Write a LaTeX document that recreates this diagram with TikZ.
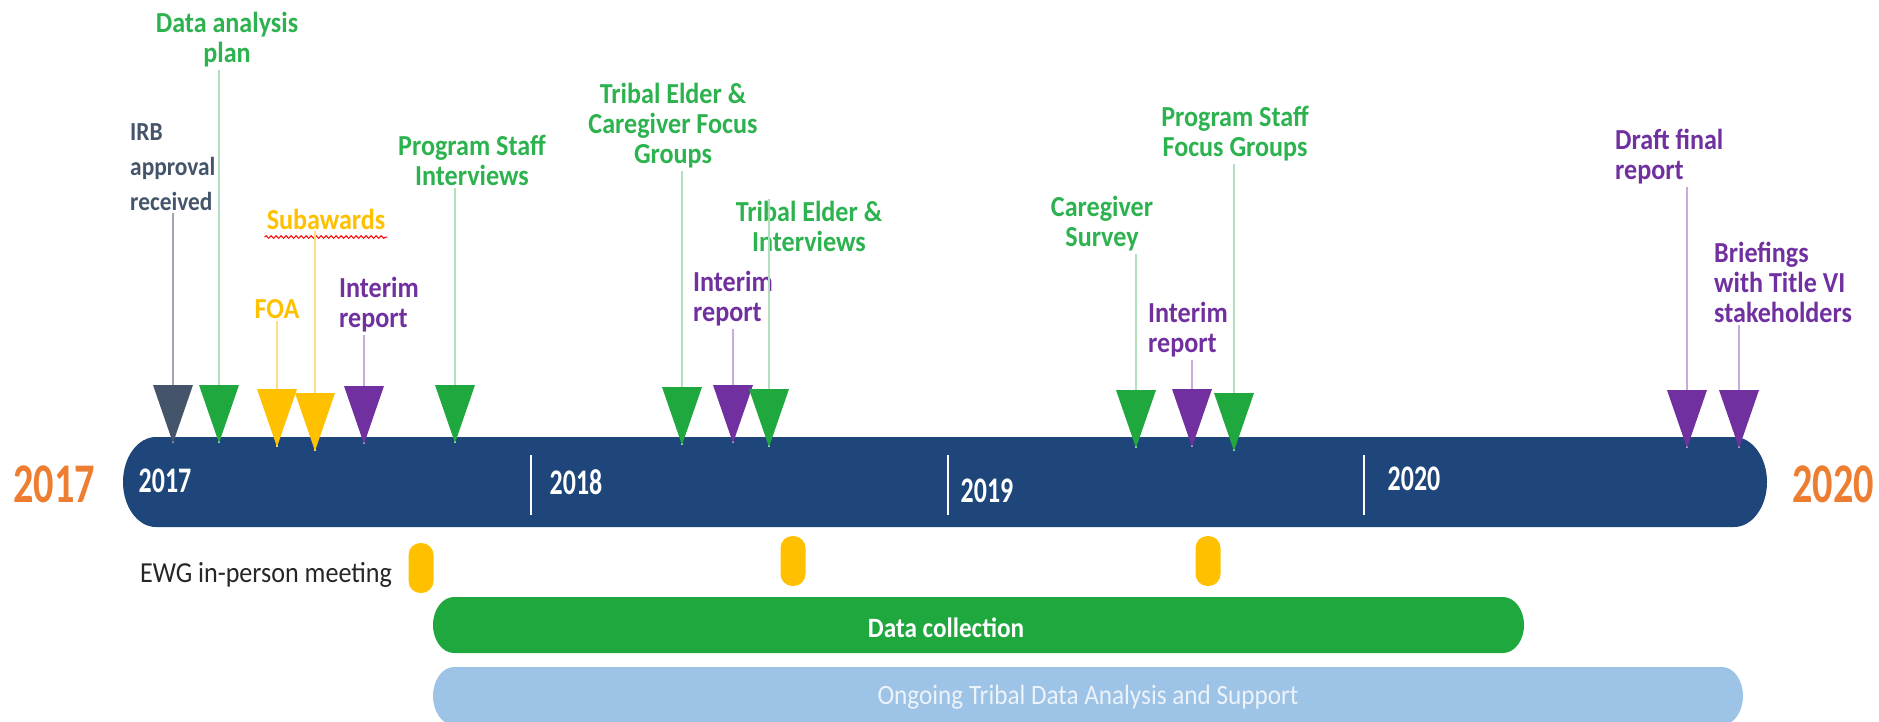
\documentclass[tikz,border=0pt]{standalone}
\usepackage{fontspec}
\setmainfont{Carlito}[FakeStretch=0.9]
\newfontfamily\yrfont{Carlito}[FakeStretch=0.72]
\usetikzlibrary{decorations.pathmorphing}

\definecolor{navy}{RGB}{30,70,122}
\definecolor{grn}{RGB}{30,168,62}
\definecolor{grntxt}{RGB}{44,178,78}
\definecolor{prp}{RGB}{112,48,160}
\definecolor{ylw}{RGB}{255,192,0}
\definecolor{orng}{RGB}{237,125,49}
\definecolor{slate}{RGB}{68,84,106}
\definecolor{ltblue}{RGB}{157,195,230}
\definecolor{lngrn}{RGB}{178,224,190}
\definecolor{lnprp}{RGB}{198,170,224}
\definecolor{lnylw}{RGB}{255,222,130}
\definecolor{lnslate}{RGB}{160,166,176}

\begin{document}
\begin{tikzpicture}[x=1pt, y=-1pt, inner sep=2pt,
    lbl/.style={font=\bfseries\fontsize{29}{30}\selectfont},
    yr/.style={font=\yrfont\bfseries\fontsize{56}{56}\selectfont, text=orng},
    baryr/.style={font=\yrfont\bfseries\fontsize{36}{36}\selectfont, text=white},
    lead/.style={line width=1.5pt},
    oval/.style={fill=ylw, minimum width=25pt, minimum height=50pt, rounded corners=12pt, inner sep=0pt}]
		\tikzstyle{every node}=[align=center]
		\useasboundingbox (0,0) rectangle (1879,721);

		% timeline bar
		\fill[navy] (156,437) -- (1734,437) arc[start angle=270, end angle=450, x radius=33, y radius=45]
			-- (156,527) arc[start angle=90, end angle=270, x radius=33, y radius=45] -- cycle;
		\draw[white, line width=1.5pt] (531,455) -- (531,515);
		\draw[white, line width=1.5pt] (948,455) -- (948,515);
		\draw[white, line width=1.5pt] (1364,455) -- (1364,515);
		\node[baryr] (b17) at (165,481) {2017};
		\node[baryr] (b18) at (576,482) {2018};
		\node[baryr] (b19) at (987,491) {2019};
		\node[baryr] (b20) at (1414,479) {2020};
		\node[yr] (y17) at (54,484) {2017};
		\node[yr] (y20) at (1833,484) {2020};

		% labels
		\node[lbl, text=slate, anchor=west, align=left, font=\bfseries\fontsize{26}{35}\selectfont] (irb) at (128,167) {IRB\\approval\\received};
		\node[lbl, text=grntxt] (dap) at (227,40) {Data analysis\\plan};
		\node[lbl, text=ylw] (foa) at (277,309) {FOA};
		\node[lbl, text=ylw] (sub) at (326,219) {Subawards};
		\node[lbl, text=prp, anchor=west, align=left] (int1) at (337,305) {Interim\\report};
		\node[lbl, text=grntxt] (psi) at (472,160) {Program Staff\\Interviews};
		\node[lbl, text=grntxt] (tecfg) at (673,126) {Tribal Elder \&\\Caregiver Focus\\Groups};
		\node[lbl, text=prp, anchor=west, align=left] (int2) at (691,299) {Interim\\report};
		\node[lbl, text=grntxt] (tei) at (809,226) {Tribal Elder \&\\Interviews};
		\node[lbl, text=grntxt] (cs) at (1102,224) {Caregiver\\Survey};
		\node[lbl, text=prp, anchor=west, align=left] (int3) at (1146,330) {Interim\\report};
		\node[lbl, text=grntxt] (psfg) at (1235,134) {Program Staff\\Focus Groups};
		\node[lbl, text=prp, anchor=west, align=left] (dfr) at (1613,157) {Draft final\\report};
		\node[lbl, text=prp, anchor=west, align=left] (brf) at (1712,282) {Briefings\\with Title VI\\stakeholders};
		\draw[red, line width=1pt, decorate, decoration={snake, amplitude=1.3pt, segment length=5pt}]
			([yshift=-8pt]sub.base west) -- ([yshift=-8pt]sub.base east);

		% triangle tips
		\coordinate (t1) at (173,443);
		\coordinate (t2) at (219,443);
		\coordinate (t3) at (277,447);
		\coordinate (t4) at (315,451);
		\coordinate (t5) at (364,444);
		\coordinate (t6) at (455,443);
		\coordinate (t7) at (682,445);
		\coordinate (t8) at (733,443);
		\coordinate (t9) at (769,447);
		\coordinate (t10) at (1136,448);
		\coordinate (t11) at (1192,447);
		\coordinate (t12) at (1234,451);
		\coordinate (t13) at (1687,448);
		\coordinate (t14) at (1739,448);

		% leader lines
		\draw[lead, lnslate] (irb.south -| t1) -- (t1);
		\draw[lead, lngrn] (dap.south -| t2) -- (t2);
		\draw[lead, lnylw] (foa.south -| t3) -- (t3);
		\draw[lead, lnylw] (sub.south -| t4) -- (t4);
		\draw[lead, lnprp] (int1.south -| t5) -- (t5);
		\draw[lead, lngrn] (psi.south -| t6) -- (t6);
		\draw[lead, lngrn] (tecfg.south -| t7) -- (t7);
		\draw[lead, lnprp] (int2.south -| t8) -- (t8);
		\draw[lead, lngrn] (tei.north -| t9) -- (t9);
		\draw[lead, lngrn] (cs.south -| t10) -- (t10);
		\draw[lead, lnprp] (int3.south -| t11) -- (t11);
		\draw[lead, lngrn] (psfg.south -| t12) -- (t12);
		\draw[lead, lnprp] (dfr.south -| t13) -- (t13);
		\draw[lead, lnprp] (brf.south -| t14) -- (t14);

		% triangles
		\fill[slate] (t1) ++(-20,-58) -- ++(40,0) -- (t1) -- cycle;
		\fill[grn] (t2) ++(-20,-58) -- ++(40,0) -- (t2) -- cycle;
		\fill[ylw] (t3) ++(-20,-58) -- ++(40,0) -- (t3) -- cycle;
		\fill[ylw] (t4) ++(-20,-58) -- ++(40,0) -- (t4) -- cycle;
		\fill[prp] (t5) ++(-20,-58) -- ++(40,0) -- (t5) -- cycle;
		\fill[grn] (t6) ++(-20,-58) -- ++(40,0) -- (t6) -- cycle;
		\fill[grn] (t7) ++(-20,-58) -- ++(40,0) -- (t7) -- cycle;
		\fill[prp] (t8) ++(-20,-58) -- ++(40,0) -- (t8) -- cycle;
		\fill[grn] (t9) ++(-20,-58) -- ++(40,0) -- (t9) -- cycle;
		\fill[grn] (t10) ++(-20,-58) -- ++(40,0) -- (t10) -- cycle;
		\fill[prp] (t11) ++(-20,-58) -- ++(40,0) -- (t11) -- cycle;
		\fill[grn] (t12) ++(-20,-58) -- ++(40,0) -- (t12) -- cycle;
		\fill[prp] (t13) ++(-20,-58) -- ++(40,0) -- (t13) -- cycle;
		\fill[prp] (t14) ++(-20,-58) -- ++(40,0) -- (t14) -- cycle;

		% meetings and phases
		\node[font=\fontsize{29}{29}\selectfont, text={rgb,255:red,38;green,38;blue,38}] (ewg) at (266,575) {EWG in-person meeting};
		\node[oval] (m1) at (421,568) {};
		\node[oval] (m2) at (793,561) {};
		\node[oval] (m3) at (1208,561) {};
		\fill[grn] (454,597) -- (1503,597) arc[start angle=270, end angle=450, x radius=21, y radius=28]
			-- (454,653) arc[start angle=90, end angle=270, x radius=21, y radius=28] -- cycle;
		\node[font=\bfseries\fontsize{28}{28}\selectfont, text=white] (dc) at (946,628) {Data collection};
		\fill[ltblue] (454,667) -- (1722,667) arc[start angle=270, end angle=450, x radius=21, y radius=29]
			-- (454,725) arc[start angle=90, end angle=270, x radius=21, y radius=29] -- cycle;
		\node[font=\fontsize{28}{28}\selectfont, text={rgb,255:red,236;green,243;blue,250}] (og) at (1088,697) {Ongoing Tribal Data Analysis and Support};
\end{tikzpicture}
\end{document}
